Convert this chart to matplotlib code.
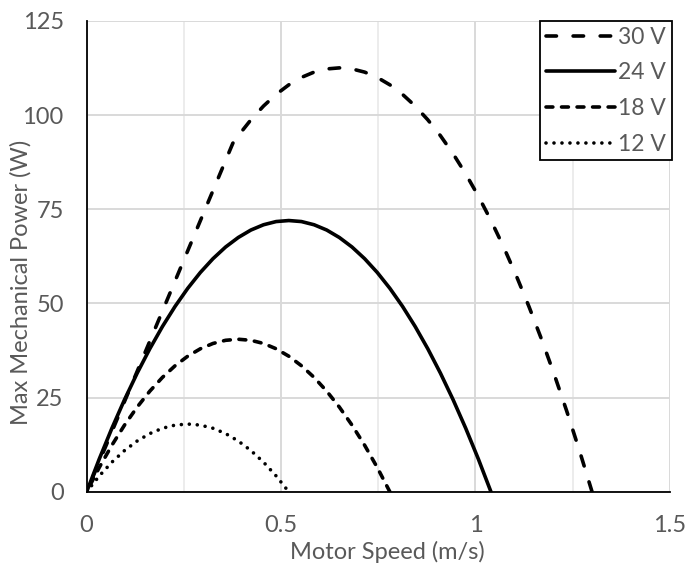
import matplotlib
matplotlib.use("Agg")
import matplotlib.pyplot as plt
from matplotlib.ticker import MultipleLocator, FuncFormatter

plt.rcParams['font.family'] = ['Lato', 'DejaVu Sans']

# Common motor speed grid (m/s)
speed = [0, 0.0325, 0.065, 0.0975, 0.13, 0.1625, 0.195, 0.2275, 0.26, 0.2925,
         0.325, 0.3575, 0.39, 0.4225, 0.455, 0.4875, 0.52, 0.5525, 0.585, 0.6175,
         0.65, 0.6825, 0.715, 0.7475, 0.78, 0.8125, 0.845, 0.8775, 0.91, 0.9425,
         0.975, 1.0075, 1.04, 1.0725, 1.105, 1.1375, 1.17, 1.2025, 1.235, 1.2675,
         1.30]

# Max mechanical power (W) per supply voltage, sampled on the grid above
power_12v = [0, 4.22, 7.88, 10.97, 13.50, 15.47, 16.88, 17.72, 18.00,
             17.72, 16.88, 15.47, 13.50, 10.97, 7.88, 4.22, 0]

power_18v = [0, 6.47, 12.38, 17.72, 22.50, 26.72, 30.38, 33.47, 36.00, 37.97,
             39.38, 40.22, 40.50, 40.22, 39.38, 37.97, 36.00, 33.47, 30.38, 26.72,
             22.50, 17.72, 12.38, 6.47, 0]

power_24v = [0, 8.72, 16.88, 24.47, 31.50, 37.97, 43.88, 49.22, 54.00, 58.22,
             61.88, 64.98, 67.50, 69.48, 70.88, 71.73, 72.00, 71.73, 70.88, 69.48,
             67.50, 64.98, 61.88, 58.22, 54.00, 49.22, 43.88, 37.97, 31.50, 24.47,
             16.88, 8.72, 0]

# 30 V is force-limited at low speed, so it gets its own grid with the corner point
speed_30v = [0, 0.0325, 0.065, 0.0975, 0.13, 0.1625, 0.195, 0.2275, 0.26, 0.2925,
             0.325, 0.3575, 0.376, 0.39, 0.4225, 0.455, 0.4875, 0.52, 0.5525, 0.585,
             0.6175, 0.65, 0.6825, 0.715, 0.7475, 0.78, 0.8125, 0.845, 0.8775, 0.91,
             0.9425, 0.975, 1.0075, 1.04, 1.0725, 1.105, 1.1375, 1.17, 1.2025, 1.235,
             1.2675, 1.30]
power_30v = [0, 8.00, 15.99, 23.99, 31.98, 39.98, 47.97, 55.97, 63.96, 71.96,
             79.95, 87.95, 92.50, 94.51, 98.73, 102.39, 105.48, 108.01, 109.98, 111.39,
             112.23, 112.51, 112.23, 111.39, 109.98, 108.01, 105.48, 102.39, 98.73, 94.51,
             89.73, 84.38, 78.48, 72.01, 64.98, 57.38, 49.22, 40.50, 31.22, 21.38,
             10.97, 0]

series_labels = ['30 V', '24 V', '18 V', '12 V']
x_ticks = [0, 0.5, 1, 1.5]
y_ticks = [0, 25, 50, 75, 100, 125]

text_color = '#595959'

fig = plt.figure(figsize=(6.88, 5.67), dpi=100)
ax = fig.add_axes([0.1259, 0.1325, 0.8477, 0.8308])

lw = 2.6
# dashed curves are traced from the no-load end so a dash lands on the axis
ax.plot(speed_30v[::-1], power_30v[::-1], color='black', lw=lw,
        linestyle=(0, (2.9, 4.6)), dash_capstyle='round',
        label=series_labels[0], zorder=3)
ax.plot(speed[:len(power_24v)], power_24v, color='black', lw=lw, linestyle='-',
        solid_capstyle='round', label=series_labels[1], zorder=3)
ax.plot(speed[:len(power_18v)][::-1], power_18v[::-1], color='black', lw=lw,
        linestyle=(0, (1.9, 2.4)), dash_capstyle='round',
        label=series_labels[2], zorder=3)
ax.plot(speed[:len(power_12v)], power_12v, color='black', lw=lw,
        linestyle=(0, (0.01, 2.2)), dash_capstyle='round',
        label=series_labels[3], zorder=3)

ax.set_xlim(0, 1.5)
ax.set_ylim(0, 125)
ax.set_xticks(x_ticks)
ax.set_yticks(y_ticks)
ax.xaxis.set_minor_locator(MultipleLocator(0.25))
ax.xaxis.set_major_formatter(FuncFormatter(lambda v, p: f'{v:g}'))

ax.grid(which='major', axis='both', color='#d9d9d9', lw=1.4, zorder=0)
ax.grid(which='minor', axis='x', color='#ececec', lw=1.4, zorder=0)
ax.set_axisbelow(True)

for side in ('top', 'right'):
    ax.spines[side].set_visible(False)
for side in ('left', 'bottom'):
    ax.spines[side].set_color('black')
    ax.spines[side].set_linewidth(1.3)

ax.tick_params(which='both', length=0, labelsize=17, labelcolor=text_color)
ax.tick_params(axis='y', pad=16.5)
ax.tick_params(axis='x', pad=16.5)

ax.set_xlabel('Motor Speed (m/s)', fontsize=17, color=text_color)
ax.set_ylabel('Max Mechanical Power (W)', fontsize=17, color=text_color)
ax.xaxis.label.set_va('center')
ax.yaxis.label.set_va('center')
ax.xaxis.set_label_coords(0.515, -0.1276)
ax.yaxis.set_label_coords(-0.1125, 0.445)

leg = ax.legend(loc='upper right', bbox_to_anchor=(672 / 688, 1 - 21 / 567),
                bbox_transform=fig.transFigure, borderaxespad=0,
                fontsize=16.5, frameon=True, fancybox=False, handlelength=3.0,
                handletextpad=0.17, labelspacing=0.64, borderpad=0.25)
leg.get_frame().set_edgecolor('black')
leg.get_frame().set_linewidth(1.3)
leg.get_frame().set_alpha(1)
for t in leg.get_texts():
    t.set_color(text_color)

fig.savefig('out.png', dpi=100)
